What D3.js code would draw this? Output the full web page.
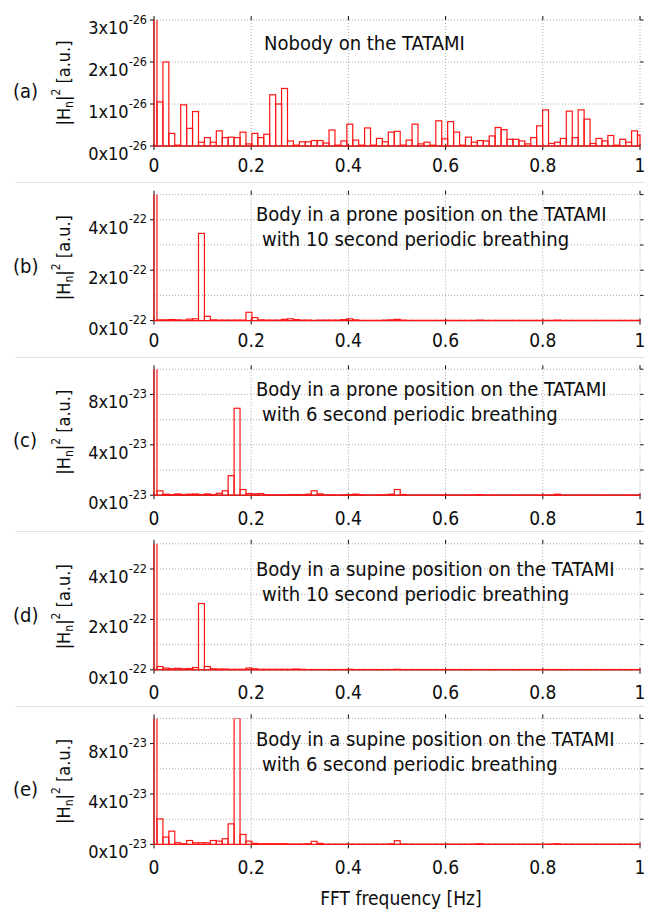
<!DOCTYPE html>
<html>
<head>
<meta charset="utf-8">
<script src="https://cdn.jsdelivr.net/npm/d3@7"></script>
<style>
  html, body { margin: 0; padding: 0; background: #fff; }
  svg { display: block; font-family: "DejaVu Sans Condensed", "DejaVu Sans", sans-serif; }
</style>
</head>
<body>
<svg id="chart" width="645" height="913"></svg>
<script>
// FFT bin spacing in Hz (bin k is centred on k * FREQ_STEP)
const FREQ_STEP = 1 / 81.92;

const xTicks = [0, 0.2, 0.4, 0.6, 0.8, 1];
const xAxisTitle = "FFT frequency [Hz]";

const panelLetters = ["(a)", "(b)", "(c)", "(d)", "(e)"];
const panelTitles = [
  ["Nobody on the TATAMI"],
  ["Body in a prone position on the TATAMI", "with 10 second periodic breathing"],
  ["Body in a prone position on the TATAMI", "with 6 second periodic breathing"],
  ["Body in a supine position on the TATAMI", "with 10 second periodic breathing"],
  ["Body in a supine position on the TATAMI", "with 6 second periodic breathing"]
];
const panelExponents = ["-26", "-22", "-23", "-22", "-23"];
const panelYMax = [3, 5, 10, 5, 10];
const panelYLabelled = [[0, 1, 2, 3], [0, 2, 4], [0, 4, 8], [0, 2, 4], [0, 4, 8]];
const panelYGrid = [[1, 2, 3], [1, 2, 3, 4, 5], [2, 4, 6, 8, 10], [1, 2, 3, 4, 5], [2, 4, 6, 8, 10]];

// |Hn|^2 per FFT bin, in units of 10^exponent of each panel
const powerA = [
  3.5, 1.05, 2.0, 0.30, 0.02, 0.98, 0.42, 0.82, 0.09, 0.20,
  0.09, 0.36, 0.20, 0.21, 0.20, 0.33, 0.05, 0.30, 0.20, 0.28,
  1.22, 1.00, 1.37, 0.12, 0.02, 0.10, 0.10, 0.13, 0.13, 0.07,
  0.38, 0.02, 0.12, 0.52, 0.14, 0.02, 0.43, 0.02, 0.18, 0.10,
  0.33, 0.35, 0.02, 0.14, 0.52, 0.05, 0.09, 0.02, 0.60, 0.17,
  0.58, 0.33, 0.02, 0.21, 0.09, 0.13, 0.12, 0.24, 0.44, 0.39,
  0.16, 0.16, 0.12, 0.05, 0.20, 0.48, 0.86, 0.06, 0.09, 0.18,
  0.83, 0.20, 0.86, 0.64, 0.06, 0.18, 0.12, 0.25, 0.02, 0.16,
  0.09, 0.36, 0.26
];
const powerB = [
  6.0, 0.03, 0.03, 0.04, 0.03, 0.02, 0.06, 0.07, 3.46, 0.17,
  0.03, 0.02, 0.02, 0.02, 0.02, 0.02, 0.33, 0.12, 0.03, 0.02,
  0.02, 0.02, 0.05, 0.07, 0.04, 0.02, 0.02, 0.01, 0.02, 0.02,
  0.02, 0.02, 0.04, 0.07, 0.03, 0.01, 0.01, 0.01, 0.01, 0.02,
  0.03, 0.05, 0.02, 0.01, 0.01, 0.01, 0.01, 0.01, 0.01, 0.01,
  0.01, 0.01, 0.01, 0.01, 0.01, 0.02, 0.01, 0.01, 0.01, 0.01,
  0.01, 0.01, 0.01, 0.01, 0.01, 0.01, 0.01, 0.01, 0.02, 0.01,
  0.01, 0.01, 0.01, 0.01, 0.01, 0.01, 0.01, 0.01, 0.01, 0.01,
  0.01, 0.01, 0.01
];
const powerC = [
  12.0, 0.35, 0.08, 0.05, 0.10, 0.05, 0.08, 0.10, 0.05, 0.10,
  0.05, 0.15, 0.35, 1.55, 6.90, 0.45, 0.13, 0.10, 0.13, 0.04,
  0.03, 0.03, 0.03, 0.04, 0.05, 0.04, 0.08, 0.35, 0.10, 0.03,
  0.03, 0.02, 0.03, 0.05, 0.08, 0.04, 0.02, 0.02, 0.03, 0.04,
  0.08, 0.45, 0.06, 0.02, 0.02, 0.02, 0.02, 0.02, 0.02, 0.02,
  0.02, 0.02, 0.02, 0.02, 0.03, 0.05, 0.02, 0.02, 0.02, 0.02,
  0.02, 0.02, 0.02, 0.02, 0.02, 0.02, 0.02, 0.03, 0.08, 0.02,
  0.02, 0.02, 0.02, 0.02, 0.02, 0.02, 0.02, 0.02, 0.02, 0.02,
  0.02, 0.02, 0.02
];
const powerD = [
  6.0, 0.13, 0.07, 0.04, 0.06, 0.04, 0.05, 0.09, 2.63, 0.13,
  0.04, 0.03, 0.03, 0.02, 0.02, 0.02, 0.07, 0.04, 0.02, 0.02,
  0.02, 0.02, 0.02, 0.02, 0.03, 0.02, 0.01, 0.01, 0.01, 0.01,
  0.01, 0.01, 0.01, 0.02, 0.01, 0.01, 0.01, 0.01, 0.01, 0.01,
  0.01, 0.02, 0.01, 0.01, 0.01, 0.01, 0.01, 0.01, 0.01, 0.01,
  0.01, 0.01, 0.01, 0.01, 0.01, 0.01, 0.01, 0.01, 0.01, 0.01,
  0.01, 0.01, 0.01, 0.01, 0.01, 0.01, 0.01, 0.01, 0.01, 0.01,
  0.01, 0.01, 0.01, 0.01, 0.01, 0.01, 0.01, 0.01, 0.01, 0.01,
  0.01, 0.01, 0.01
];
const powerE = [
  12.0, 2.02, 0.58, 1.05, 0.13, 0.05, 0.31, 0.13, 0.13, 0.13,
  0.31, 0.26, 0.45, 1.63, 10.0, 0.79, 0.26, 0.08, 0.05, 0.05,
  0.05, 0.05, 0.05, 0.03, 0.03, 0.03, 0.05, 0.24, 0.08, 0.02,
  0.02, 0.02, 0.02, 0.03, 0.02, 0.02, 0.02, 0.02, 0.02, 0.02,
  0.05, 0.29, 0.03, 0.02, 0.02, 0.02, 0.02, 0.02, 0.02, 0.02,
  0.02, 0.02, 0.02, 0.02, 0.03, 0.05, 0.02, 0.02, 0.02, 0.02,
  0.02, 0.02, 0.02, 0.02, 0.02, 0.02, 0.02, 0.03, 0.05, 0.02,
  0.02, 0.02, 0.02, 0.02, 0.02, 0.02, 0.02, 0.02, 0.02, 0.02,
  0.02, 0.02, 0.02
];
const panelPower = [powerA, powerB, powerC, powerD, powerE];

// ---- layout ----
const plotLeft = 154, plotRight = 640;
const firstTop = 20, panelStep = 174.6, plotHeight = 126;
const titleX = [264, 256, 256, 256, 256];
const titleOffset = [29.5, 26, 26.5, 32, 27.3];
const xLabelOffset = [25.5, 26.5, 29.5, 29.5, 29.5];

const RED = "#ff1414";
const INK = "#0d0d0d";
const GRID = "#a8a8a8";

const svg = d3.select("#chart");
svg.append("rect").attr("width", 645).attr("height", 913).attr("fill", "#fff");

const x = d3.scaleLinear().domain([0, 1]).range([plotLeft, plotRight]);

// thin separators between the stacked panels
for (let i = 0; i < 4; i++) {
  const yy = Math.round(182 + i * panelStep) + 0.5;
  svg.append("line").attr("x1", 15).attr("x2", 645).attr("y1", yy).attr("y2", yy)
    .attr("stroke", "#e2e2e2").attr("stroke-width", 1);
}

panelPower.forEach((power, p) => {
  const top = firstTop + p * panelStep;
  const bottom = top + plotHeight;
  const y = d3.scaleLinear().domain([0, panelYMax[p]]).range([bottom, top]);
  const g = svg.append("g");

  // dotted grid
  panelYGrid[p].forEach(v => {
    g.append("line").attr("x1", plotLeft).attr("x2", plotRight)
      .attr("y1", y(v)).attr("y2", y(v))
      .attr("stroke", GRID).attr("stroke-width", 1).attr("stroke-dasharray", "1,2");
    g.append("line").attr("x1", plotRight).attr("x2", plotRight + 3.5)
      .attr("y1", y(v)).attr("y2", y(v)).attr("stroke", INK).attr("stroke-width", 1);
  });
  xTicks.filter(v => v > 0).forEach(v => {
    g.append("line").attr("x1", x(v)).attr("x2", x(v))
      .attr("y1", top).attr("y2", bottom)
      .attr("stroke", GRID).attr("stroke-width", 1).attr("stroke-dasharray", "1,2");
  });

  // axes
  g.append("line").attr("x1", plotLeft).attr("x2", plotLeft).attr("y1", top).attr("y2", bottom)
    .attr("stroke", INK).attr("stroke-width", 1);
  g.append("line").attr("x1", plotLeft).attr("x2", plotRight).attr("y1", bottom).attr("y2", bottom)
    .attr("stroke", INK).attr("stroke-width", 1);
  xTicks.forEach(v => {
    g.append("line").attr("x1", x(v)).attr("x2", x(v)).attr("y1", bottom - 2).attr("y2", bottom + 4)
      .attr("stroke", INK).attr("stroke-width", 1);
    g.append("line").attr("x1", x(v)).attr("x2", x(v)).attr("y1", top - 4).attr("y2", top)
      .attr("stroke", INK).attr("stroke-width", 1);
    g.append("text").attr("x", x(v)).attr("y", bottom + xLabelOffset[p])
      .attr("text-anchor", "middle").attr("font-size", 19).attr("fill", INK)
      .text(d3.format("~g")(v));
  });
  panelYLabelled[p].forEach(v => {
    g.append("line").attr("x1", plotLeft - 4).attr("x2", plotLeft)
      .attr("y1", y(v)).attr("y2", y(v)).attr("stroke", INK).attr("stroke-width", 1);
    const t = g.append("text").attr("x", 147).attr("y", y(v) + 14)
      .attr("text-anchor", "end").attr("font-size", 18).attr("fill", INK);
    t.append("tspan").text(v + "x10");
    t.append("tspan").attr("font-size", 12.5).attr("dy", -10.5).text(panelExponents[p]);
  });

  // spectrum bars, clipped at the top of the plot
  const clipId = "clip" + p;
  svg.append("clipPath").attr("id", clipId).append("rect")
    .attr("x", plotLeft - 2).attr("y", top).attr("width", plotRight - plotLeft + 4).attr("height", plotHeight + 3);
  const bars = g.append("g").attr("clip-path", `url(#${clipId})`);
  bars.selectAll("rect").data(power).join("rect")
    .attr("x", (d, k) => x(Math.max(0, (k - 0.5) * FREQ_STEP)))
    .attr("width", (d, k) => x(Math.min(1, (k + 0.5) * FREQ_STEP)) - x(Math.max(0, (k - 0.5) * FREQ_STEP)))
    .attr("y", d => y(d))
    .attr("height", d => bottom - y(d))
    .attr("fill", "none").attr("stroke", RED).attr("stroke-width", 1.2);

  // panel letter and y-axis title
  const midY = (top + bottom) / 2;
  g.append("text").attr("x", 13).attr("y", midY + 15).attr("font-size", 20).attr("fill", INK)
    .text(panelLetters[p]);
  const yt = g.append("text").attr("transform", `translate(70,${midY}) rotate(-90)`)
    .attr("text-anchor", "middle").attr("font-size", 18).attr("fill", INK);
  yt.append("tspan").text("|H");
  yt.append("tspan").attr("font-size", 12).attr("dy", 3).text("n");
  yt.append("tspan").attr("dy", -3).text("|");
  yt.append("tspan").attr("font-size", 12).attr("dy", -10).text("2");
  yt.append("tspan").attr("dy", 10).text(" [a.u.]");

  // panel description
  panelTitles[p].forEach((line, i) => {
    g.append("text").attr("x", i === 0 ? titleX[p] : titleX[p] + 6)
      .attr("y", top + titleOffset[p] + i * 25)
      .attr("font-size", 20).attr("fill", INK).text(line);
  });
});

svg.append("text").attr("x", 401).attr("y", 905).attr("text-anchor", "middle")
  .attr("font-size", 19).attr("fill", INK).text(xAxisTitle);
</script>
</body>
</html>
